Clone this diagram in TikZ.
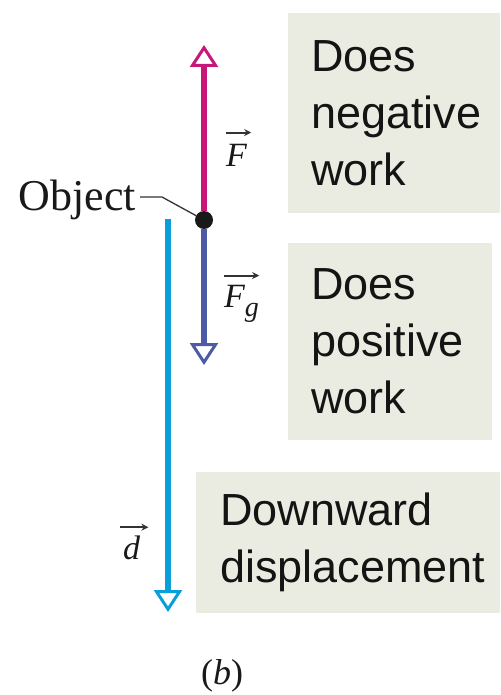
\documentclass[tikz,border=0pt]{standalone}
\usepackage{fontspec}
\setmainfont{Liberation Serif}
\newfontfamily\boxfont{Liberation Sans}
\usetikzlibrary{arrows.meta}
\definecolor{fmag}{HTML}{C8177B}
\definecolor{fblue}{HTML}{4D5BA6}
\definecolor{dcyan}{HTML}{0A9EDB}
\definecolor{boxfill}{HTML}{EBECE1}
\definecolor{inkgray}{HTML}{333333}
\begin{document}
\begin{tikzpicture}[x=1pt,y=-1pt,
  infobox/.style={fill=boxfill, draw=none, anchor=north west, inner xsep=23pt, inner ysep=0pt,
    align=left, font=\boxfont\fontsize{45}{57}\selectfont, text=black!92},
  shaft/.style={line width=6.5pt},
  opentip/.style={-{Triangle[open, length=22pt, width=28pt, line width=3pt]}},
  vsym/.style={font=\itshape\fontsize{34}{34}\selectfont, inner sep=0pt, text=black!90},
  vecar/.style={inkgray, line width=2pt, -{Stealth[length=7pt, width=7pt]}},
  leader/.style={inkgray, line width=1.3pt},
  dot/.style={circle, fill=black!90, inner sep=0pt, minimum size=18pt}
]
\useasboundingbox (0,0) rectangle (500,695);

% boxes
\node[infobox, text width=166pt, minimum height=200pt] (negbox) at (288,13) {Does\\negative\\work};
\node[infobox, text width=158pt, minimum height=197pt] (posbox) at (288,243) {Does\\positive\\work};
\node[infobox, inner xsep=24pt, text width=256pt, minimum height=141pt] (dispbox) at (196,472) {Downward\\displacement};

% object
\node[dot] (obj) at (204,220) {};
\coordinate (ftip) at (204,45);
\coordinate (fgtip) at (204,365);
\coordinate (dtop) at (168,219);
\coordinate (dtip) at (168,612);

\draw[shaft, fmag, opentip] (obj) -- (ftip);
\draw[shaft, fblue, opentip] (obj) -- (fgtip);
\draw[shaft, dcyan, opentip] (dtop) -- (dtip);

% object label
\node[font=\fontsize{44}{44}\selectfont, anchor=base east, inner sep=0pt, text=black!90] (objlab) at (136,210) {Object};
\coordinate (lead1) at (140,197);
\draw[leader] (lead1) -- ++(22,0) -- (obj);

% vector labels
\node[vsym, anchor=base west] (flab) at (226,167) {F};
\draw[vecar] ([yshift=12pt]flab.north west) -- ([yshift=12pt, xshift=4pt]flab.north east);

\node[vsym, anchor=base west] (fglab) at (224,307) {F\raisebox{-9pt}{\fontsize{28}{28}\selectfont g}};
\draw[vecar] ([yshift=9pt]fglab.north west) -- ([yshift=9pt]fglab.north east);

\node[vsym, anchor=base west] (dlab) at (123,559) {d};
\draw[vecar] ([xshift=-3pt, yshift=8pt]dlab.north west) -- ([xshift=8pt, yshift=8pt]dlab.north east);

% caption
\node[font=\fontsize{36}{36}\selectfont, anchor=base, inner sep=0pt, text=black!90] (cap) at (222,684) {(\textit{b})};
\end{tikzpicture}
\end{document}
